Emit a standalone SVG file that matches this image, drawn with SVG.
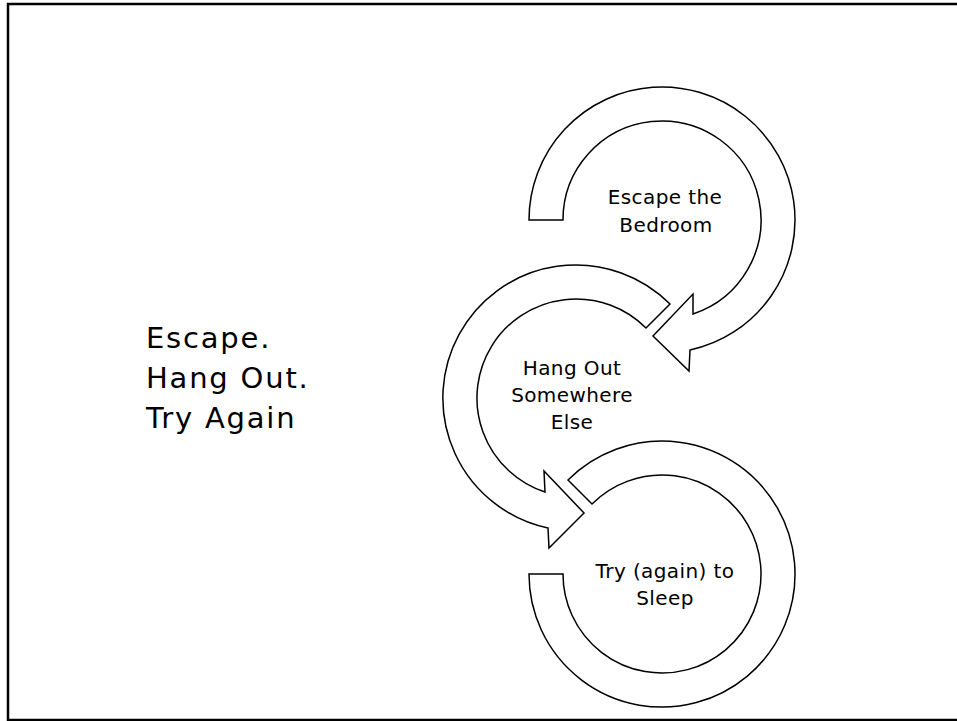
<svg xmlns="http://www.w3.org/2000/svg" width="957" height="721" viewBox="0 0 957 721">
<style>
.arr{fill:#fff;stroke:#000;stroke-width:1.5;stroke-linejoin:miter}
.lbl{font-family:"DejaVu Sans","Liberation Sans",sans-serif;font-size:20px;fill:#000;text-anchor:middle;letter-spacing:0.4px}
.big{font-family:"DejaVu Sans","Liberation Sans",sans-serif;font-size:29px;fill:#000;letter-spacing:1.8px}
</style>
<rect x="0" y="0" width="957" height="721" fill="#fff"/>
<rect x="8" y="4" width="960" height="716" fill="none" stroke="#000" stroke-width="2.5"/>
<g id="title">
<text class="big" x="146" y="348">Escape.</text>
<text class="big" x="146" y="388">Hang Out.</text>
<text class="big" x="146" y="428">Try Again</text>
</g>
<g id="connectors">
<path id="arrow3" class="arr" d="M568,480 A133,133 0 1 1 529,574 L563,574 A99,99 0 1 0 592,504 Z"/>
<path id="arrow2" class="arr" d="M670,304 A133,133 0 1 0 548,528 L549,548 L584,513 L544,471 L545,492 A99,99 0 1 1 646,328 Z"/>
<path id="arrow1" class="arr" d="M529,220 A133,133 0 1 1 690,350 L689,371 L653,336 L693,294 L693,314 A99,99 0 1 0 563,220 Z"/>
</g>
<g id="node1">
<text class="lbl" x="665" y="204">Escape the</text>
<text class="lbl" x="666" y="232">Bedroom</text>
</g>
<g id="node2">
<text class="lbl" x="572" y="375">Hang Out</text>
<text class="lbl" x="572" y="402">Somewhere</text>
<text class="lbl" x="572" y="429">Else</text>
</g>
<g id="node3">
<text class="lbl" x="665" y="578">Try (again) to</text>
<text class="lbl" x="665" y="605">Sleep</text>
</g>
</svg>
